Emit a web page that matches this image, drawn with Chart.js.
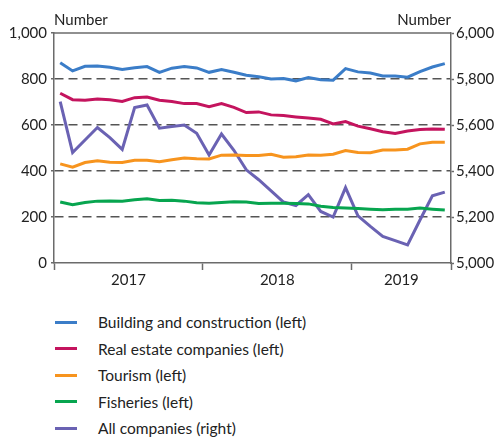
<!DOCTYPE html>
<html>
<head>
<meta charset="utf-8">
<script src="https://cdn.jsdelivr.net/npm/chart.js@4"></script>
<style>
  body { margin: 0; background: #fff; font-family: Lato, "Open Sans", sans-serif; }
  #wrap { position: relative; width: 498px; height: 300px; }
  #legend { margin: 9px 0 0 55px; padding: 0; list-style: none; }
  #legend li { height: 26.5px; display: flex; align-items: center; font-size: 15.5px; color: #222; }
  #legend span.sw { display: inline-block; width: 22px; height: 3px; margin-right: 21px; }
</style>
</head>
<body>
<div id="wrap"><canvas id="grafico" width="498" height="300"></canvas></div>
<ul id="legend"></ul>
<script>
// monthly, Jan 2017 - Aug 2019
const meses = [];
for (let a = 2017; a <= 2019; a++) {
    for (let m = 1; m <= 12; m++) {
        if (a === 2019 && m > 8) break;
        meses.push(a + '-' + String(m).padStart(2, '0'));
    }
}
const anos = ['2017', '2018', '2019'];

const construcao = [871, 835, 855, 857, 851, 841, 849, 854, 829, 847, 854, 848,
    829, 841, 829, 816, 810, 800, 802, 792, 806, 797, 795, 845,
    831, 826, 813, 813, 808, 832, 852, 867];
const imobiliarias = [738, 710, 708, 713, 710, 702, 719, 722, 708, 702, 693, 693,
    680, 693, 677, 654, 657, 644, 641, 635, 630, 625, 605, 615,
    595, 584, 571, 563, 574, 580, 583, 582];
const turismo = [431, 417, 437, 444, 438, 437, 447, 447, 440, 449, 456, 453,
    452, 469, 470, 467, 467, 473, 460, 462, 470, 469, 473, 489,
    480, 479, 491, 491, 495, 518, 525, 525];
const pesca = [265, 253, 263, 269, 270, 269, 275, 279, 272, 273, 269, 262,
    260, 263, 266, 265, 259, 260, 260, 259, 257, 247, 241, 239,
    237, 234, 231, 234, 234, 239, 234, 230];
const todas = [5702, 5480, 5535, 5589, 5545, 5494, 5676, 5687, 5586, 5593, 5600, 5564,
    5470, 5561, 5490, 5405, 5362, 5314, 5265, 5250, 5297, 5224, 5200, 5328,
    5205, 5159, 5116, 5097, 5079, 5187, 5292, 5308];

const series = [
    { label: 'Building and construction (left)', data: construcao, cor: '#3b7dc8', eixo: 'y' },
    { label: 'Real estate companies (left)', data: imobiliarias, cor: '#c4145e', eixo: 'y' },
    { label: 'Tourism (left)', data: turismo, cor: '#f7941e', eixo: 'y' },
    { label: 'Fisheries (left)', data: pesca, cor: '#07a54f', eixo: 'y' },
    { label: 'All companies (right)', data: todas, cor: '#6a62b3', eixo: 'y1' },
];

// year label positions = middle of each year's months
const anoCentro = {};
anos.forEach(ano => {
    const idx = meses.map((m, i) => m.startsWith(ano) ? i : -1).filter(i => i >= 0);
    anoCentro[(idx[0] + idx[idx.length - 1] + 1) / 2] = ano;
});
const anoInicio = anos.map(ano => meses.findIndex(m => m.startsWith(ano))).concat([meses.length]);

const fonte = { family: 'Lato, "Open Sans", sans-serif', size: 15 };
const corEixo = '#6b6b6b';

const molduraPlugin = {
    id: 'moldura',
    afterDraw(chart) {
        const { ctx, chartArea } = chart;
        ctx.save();
        ctx.strokeStyle = corEixo;
        ctx.lineWidth = 1.5;
        ctx.beginPath();
        ctx.moveTo(chartArea.left, chartArea.top);
        ctx.lineTo(chartArea.right, chartArea.top);
        ctx.stroke();
        ctx.fillStyle = '#222';
        ctx.font = '15px ' + fonte.family;
        ctx.textBaseline = 'alphabetic';
        ctx.textAlign = 'left';
        ctx.fillText('Number', chartArea.left, 25);
        ctx.textAlign = 'right';
        ctx.fillText('Number', chartArea.right, 25);
        ctx.restore();
    }
};

new Chart(document.getElementById('grafico').getContext('2d'), {
    type: 'line',
    data: {
        datasets: series.map(s => ({
            label: s.label,
            data: s.data.map((v, i) => ({ x: i + 0.5, y: v })),
            borderColor: s.cor,
            backgroundColor: s.cor,
            borderWidth: 3,
            pointRadius: 0,
            tension: 0,
            yAxisID: s.eixo,
        }))
    },
    options: {
        responsive: false,
        animation: false,
        layout: { padding: { top: 33, left: 0, right: 0, bottom: 0 } },
        plugins: { legend: { display: false }, tooltip: { enabled: false } },
        scales: {
            x: {
                type: 'linear',
                min: 0,
                max: meses.length,
                afterBuildTicks(scale) {
                    const vals = new Set(anoInicio);
                    Object.keys(anoCentro).forEach(k => vals.add(parseFloat(k)));
                    scale.ticks = [...vals].sort((a, b) => a - b).map(v => ({ value: v }));
                },
                afterFit(scale) { scale.height = 300 - 263; },
                ticks: {
                    autoSkip: false,
                    maxRotation: 0,
                    padding: 1,
                    color: '#222',
                    font: fonte,
                    callback: v => anoCentro[v] || ''
                },
                grid: {
                    drawOnChartArea: false,
                    tickLength: 7,
                    tickWidth: 1.5,
                    tickColor: ctx => (ctx.tick && anoInicio.includes(ctx.tick.value)) ? corEixo : 'rgba(0,0,0,0)'
                },
                border: { color: corEixo, width: 1.5 }
            },
            y: {
                position: 'left',
                min: 0,
                max: 1000,
                afterFit(scale) { scale.width = 54; },
                ticks: {
                    stepSize: 200,
                    padding: 4,
                    color: '#222',
                    font: fonte,
                    callback: v => v.toLocaleString('en-US')
                },
                grid: {
                    color: ctx => (ctx.tick && (ctx.tick.value === 0 || ctx.tick.value === 1000)) ? 'rgba(0,0,0,0)' : '#555',
                    lineWidth: 1.5,
                    tickLength: 3,
                    tickColor: corEixo,
                    tickWidth: 1.5,
                    tickBorderDash: [],
                },
                border: { color: corEixo, width: 1.5, dash: [9, 5] }
            },
            y1: {
                position: 'right',
                min: 5000,
                max: 6000,
                afterFit(scale) { scale.width = 47; },
                ticks: {
                    stepSize: 200,
                    padding: 2,
                    color: '#222',
                    font: fonte,
                    callback: v => v.toLocaleString('en-US')
                },
                grid: {
                    drawOnChartArea: false,
                    tickLength: 3,
                    tickColor: corEixo,
                    tickWidth: 1.5
                },
                border: { color: corEixo, width: 1.5 }
            }
        }
    },
    plugins: [molduraPlugin]
});

const legenda = document.getElementById('legend');
series.forEach(s => {
    const li = document.createElement('li');
    li.innerHTML = `<span class="sw" style="background:${s.cor}"></span>${s.label}`;
    legenda.appendChild(li);
});
</script>
</body>
</html>
